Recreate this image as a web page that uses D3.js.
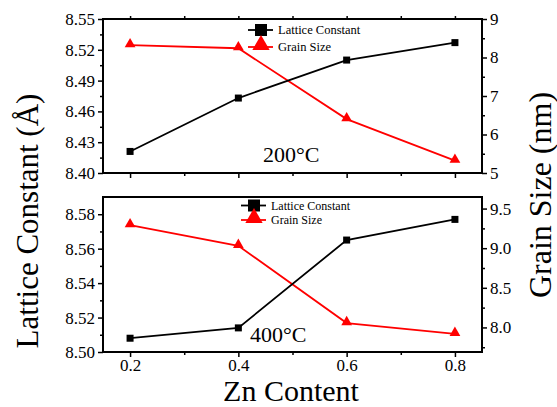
<!DOCTYPE html>
<html>
<head>
<meta charset="utf-8">
<script src="https://cdn.jsdelivr.net/npm/d3@7"></script>
<style>
  body { margin: 0; background: #fff; }
  svg { display: block; }
  text { font-family: 'Liberation Serif', 'Times New Roman', serif; }
</style>
</head>
<body>
<svg id="chart" width="557" height="407"></svg>
<script>
// data
var zn = [0.2, 0.4, 0.6, 0.8]
var lattice200 = [8.421, 8.473, 8.510, 8.527]
var grain200 = [8.32, 8.24, 6.40, 5.32]
var lattice400 = [8.508, 8.514, 8.565, 8.577]
var grain400 = [9.29, 9.03, 8.055, 7.92]

var xTicks = [0.2, 0.4, 0.6, 0.8]
var xMinor = [0.3, 0.5, 0.7]
var yTicks200 = [8.40, 8.43, 8.46, 8.49, 8.52, 8.55]
var yTicks400 = [8.50, 8.52, 8.54, 8.56, 8.58]
var gTicks200 = [5, 6, 7, 8, 9]
var gTicks400 = [8.0, 8.5, 9.0, 9.5]
var labels = ['Lattice Constant', 'Grain Size']
var temps = ['200°C', '400°C']

var serif = "'Liberation Serif', 'Times New Roman', serif"
var svg = d3.select('#chart')
var left = 103
var right = 482

var x = d3.scaleLinear().domain([0.15, 0.85]).range([left, right])

var panels = [
  {top: 19, bottom: 173, yDom: [8.40, 8.55], gDom: [5, 9], yTicks: yTicks200, gTicks: gTicks200,
    yFmt: d3.format('.2f'), gFmt: d3.format('d'), lat: lattice200, grain: grain200, temp: temps[0],
    tempX: 263, tempY: 162, legX: 261, legY: 30, legDy: 17, legFont: 12.5, topTicks: true, xLabels: false},
  {top: 197, bottom: 352, yDom: [8.50, 8.59], gDom: [7.69, 9.646], yTicks: yTicks400, gTicks: gTicks400,
    yFmt: d3.format('.2f'), gFmt: d3.format('.1f'), lat: lattice400, grain: grain400, temp: temps[1],
    tempX: 250, tempY: 342, legX: 254, legY: 205.5, legDy: 14.5, legFont: 12, topTicks: false, xLabels: true}
]

function minorBetween (ticks) {
  var out = []
  for (var i = 0; i < ticks.length - 1; i++) out.push((ticks[i] + ticks[i + 1]) / 2)
  return out
}

panels.forEach(function (p) {
  var y = d3.scaleLinear().domain(p.yDom).range([p.bottom, p.top])
  var y2 = d3.scaleLinear().domain(p.gDom).range([p.bottom, p.top])
  var g = svg.append('g')

  // left axis, major + minor
  g.append('g').attr('transform', 'translate(' + left + ',0)')
    .call(d3.axisLeft(y).tickValues(p.yTicks).tickFormat(p.yFmt).tickSize(5).tickPadding(3))
  g.append('g').attr('transform', 'translate(' + left + ',0)')
    .call(d3.axisLeft(y).tickValues(minorBetween(p.yTicks)).tickFormat('').tickSize(3))

  // right axis, major + minor
  g.append('g').attr('transform', 'translate(' + right + ',0)')
    .call(d3.axisRight(y2).tickValues(p.gTicks).tickFormat(p.gFmt).tickSize(5).tickPadding(3))
  var gm = minorBetween(p.gTicks)
  if (p.gDom[0] < p.gTicks[0]) gm.unshift(p.gTicks[0] - 0.25)
  g.append('g').attr('transform', 'translate(' + right + ',0)')
    .call(d3.axisRight(y2).tickValues(gm.filter(function (v) { return v >= p.gDom[0] && v <= p.gDom[1] })).tickFormat('').tickSize(3))

  // bottom axis
  g.append('g').attr('transform', 'translate(0,' + p.bottom + ')')
    .call(d3.axisBottom(x).tickValues(xTicks).tickFormat(p.xLabels ? d3.format('.1f') : '').tickSize(5).tickPadding(2))
  g.append('g').attr('transform', 'translate(0,' + p.bottom + ')')
    .call(d3.axisBottom(x).tickValues(xMinor).tickFormat('').tickSize(3))

  if (p.topTicks) {
    g.append('g').attr('transform', 'translate(0,' + p.top + ')')
      .call(d3.axisTop(x).tickValues(xTicks.concat(xMinor)).tickFormat('').tickSize(3))
  }

  g.selectAll('.domain').remove()
  g.selectAll('.tick line').attr('stroke', '#000').attr('stroke-width', 1.5)
  g.selectAll('.tick text').attr('fill', '#000')
    .attr('font-size', 17).attr('font-family', serif)

  // frame
  g.append('rect')
    .attr('x', left).attr('y', p.top)
    .attr('width', right - left).attr('height', p.bottom - p.top)
    .attr('fill', 'none').attr('stroke', '#000').attr('stroke-width', 2)

  var latLine = d3.line().x(function (d, i) { return x(zn[i]) }).y(function (d) { return y(d) })
  var grLine = d3.line().x(function (d, i) { return x(zn[i]) }).y(function (d) { return y2(d) })

  // grain size (red)
  g.append('path').datum(p.grain)
    .attr('fill', 'none').attr('stroke', '#ff0000').attr('stroke-width', 1.8)
    .attr('d', grLine)
  g.selectAll('.tri').data(p.grain).enter().append('path')
    .attr('d', d3.symbol().type(d3.symbolTriangle).size(50))
    .attr('transform', function (d, i) { return 'translate(' + x(zn[i]) + ',' + (y2(d) - 1) + ')' })
    .attr('fill', '#ff0000')

  // lattice constant (black)
  g.append('path').datum(p.lat)
    .attr('fill', 'none').attr('stroke', '#000').attr('stroke-width', 1.8)
    .attr('d', latLine)
  g.selectAll('.sq').data(p.lat).enter().append('rect')
    .attr('x', function (d, i) { return x(zn[i]) - 3.5 })
    .attr('y', function (d) { return y(d) - 3.5 })
    .attr('width', 7).attr('height', 7)
    .attr('fill', '#000')

  // temperature label
  g.append('text')
    .attr('x', p.tempX).attr('y', p.tempY)
    .attr('font-family', serif).attr('font-size', 22)
    .text(p.temp)

  // legend
  var lg = g.append('g')
  lg.append('line').attr('x1', p.legX - 13).attr('x2', p.legX + 12)
    .attr('y1', p.legY).attr('y2', p.legY).attr('stroke', '#000').attr('stroke-width', 1.8)
  lg.append('rect').attr('x', p.legX - 6).attr('y', p.legY - 6)
    .attr('width', 12).attr('height', 12).attr('fill', '#000')
  lg.append('text').attr('x', p.legX + 17).attr('y', p.legY)
    .attr('dy', '0.35em').attr('font-family', serif).attr('font-size', p.legFont).text(labels[0])
  lg.append('line').attr('x1', p.legX - 13).attr('x2', p.legX + 12)
    .attr('y1', p.legY + p.legDy).attr('y2', p.legY + p.legDy).attr('stroke', '#ff0000').attr('stroke-width', 1.8)
  lg.append('path')
    .attr('d', d3.symbol().type(d3.symbolTriangle).size(130))
    .attr('transform', 'translate(' + p.legX + ',' + (p.legY + p.legDy - 2) + ')')
    .attr('fill', '#ff0000')
  lg.append('text').attr('x', p.legX + 17).attr('y', p.legY + p.legDy)
    .attr('dy', '0.35em').attr('font-family', serif).attr('font-size', p.legFont).text(labels[1])
})

// axis titles
svg.append('text')
  .attr('transform', 'translate(38,221) rotate(-90)')
  .attr('text-anchor', 'middle')
  .attr('font-family', serif).attr('font-size', 31)
  .text('Lattice Constant (Å)')

svg.append('text')
  .attr('transform', 'translate(551,195) rotate(-90)')
  .attr('text-anchor', 'middle')
  .attr('font-family', serif).attr('font-size', 32)
  .text('Grain Size (nm)')

svg.append('text')
  .attr('x', 291).attr('y', 400.5)
  .attr('text-anchor', 'middle')
  .attr('font-family', serif).attr('font-size', 30)
  .text('Zn Content')
</script>
</body>
</html>
